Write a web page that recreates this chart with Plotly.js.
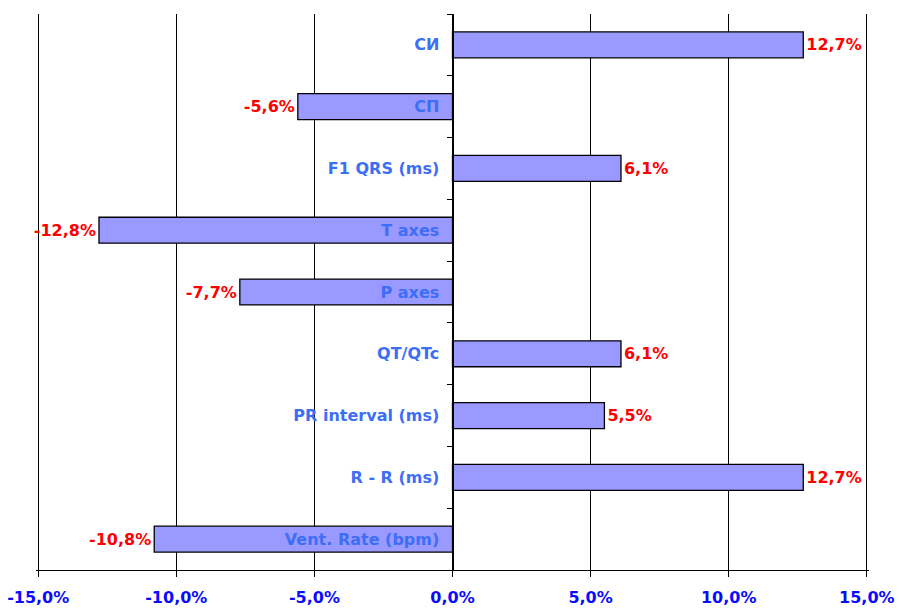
<!DOCTYPE html>
<html><head><meta charset="utf-8">
<script src="https://cdn.plot.ly/plotly-3.0.1.min.js"></script>
<style>html,body{margin:0;padding:0;background:#fff}#chart{width:899px;height:610px}</style>
</head><body><div id="chart"></div>
<script>
const categories = ["СИ","СП","F1 QRS (ms)","T axes","P axes","QT/QTc","PR interval (ms)","R - R (ms)","Vent. Rate (bpm)"];
const values = [12.7,-5.6,6.1,-12.8,-7.7,6.1,5.5,12.7,-10.8];
const xTickVals = [-15,-10,-5,0,5,10,15];
const xTickText = ["-15,0%","-10,0%","-5,0%","0,0%","5,0%","10,0%","15,0%"];

const labels = values.map(v => v.toFixed(1).replace('.', ',') + '%');
const font = "DejaVu Sans, Arial, sans-serif";

Plotly.newPlot('chart', [{
  type: 'bar', orientation: 'h',
  y: categories, x: values,
  text: labels, textposition: 'outside', cliponaxis: false,
  textfont: {family: font, size: 16, color: '#ff0000', weight: 'bold'},
  marker: {color: '#9999ff', line: {color: '#000', width: 1.3}},
  width: 0.42, hoverinfo: 'skip'
}], {
  width: 899, height: 610,
  margin: {l: 36, r: 30, t: 14, b: 40},
  paper_bgcolor: '#fff', plot_bgcolor: '#fff',
  showlegend: false,
  xaxis: {
    range: [-15.08, 15.08], tickvals: xTickVals, ticktext: xTickText,
    showgrid: true, gridcolor: '#000', gridwidth: 1,
    zeroline: false,
    showline: true, linecolor: '#000', linewidth: 1,
    ticks: 'outside', ticklen: 6, tickcolor: '#000',
    ticklabelstandoff: 7,
    tickfont: {family: font, size: 16, color: '#0a0aff', weight: 'bold'}
  },
  yaxis: {
    autorange: 'reversed', type: 'category',
    anchor: 'free', position: 0.5,
    showline: true, linecolor: '#000', linewidth: 1,
    ticks: 'outside', tickson: 'boundaries', ticklen: 6, tickcolor: '#000',
    ticklabelstandoff: 10,
    showgrid: false, zeroline: false,
    tickfont: {family: font, size: 16, color: '#3d6ef6', weight: 'bold'}
  }
}, {staticPlot: true});
</script></body></html>
